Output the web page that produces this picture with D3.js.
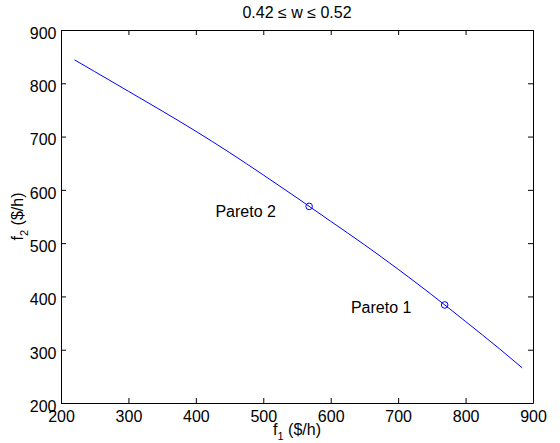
<!DOCTYPE html>
<html>
<head>
<meta charset="utf-8">
<script src="https://cdn.jsdelivr.net/npm/d3@7"></script>
<style>
  body { margin: 0; background: #fff; }
  svg text { font-family: 'Liberation Sans', Arial, Helvetica, sans-serif; font-size: 16px; fill: #000; }
</style>
</head>
<body>
<div id="chart"></div>
<script>
// pareto front
const f1 = [220, 250, 300, 350, 400, 450, 500, 550, 600, 650, 700, 750, 800, 850, 884];
const f2 = [844, 822, 785, 748, 710, 670, 628, 585, 541, 497, 451, 403, 353, 302, 266];

// the two marked solutions
const paretoF1 = [769, 568];
const paretoF2 = [384, 569];

// text labels next to them (data coords of left/middle of text)
const labelText = ['Pareto 1', 'Pareto 2'];
const labelF1 = [630, 429];
const labelF2 = [380, 559];

const ticks = [200, 300, 400, 500, 600, 700, 800, 900];

const width = 560, height = 443;
const margin = {top: 30, right: 27, bottom: 40, left: 61};
const chartWidth = width - margin.left - margin.right;   // 472
const chartHeight = height - margin.top - margin.bottom; // 373

const svg = d3.select('#chart').append('svg')
    .attr('width', width)
    .attr('height', height);

svg.append('rect').attr('width', width).attr('height', height).attr('fill', '#fff');

const chart = svg.append('g')
    .attr('transform', `translate(${margin.left},${margin.top})`);

const scaleX = d3.scaleLinear([200, 900], [0, chartWidth]);
const scaleY = d3.scaleLinear([200, 900], [chartHeight, 0]);

// axes, ticks pointing inward like matlab
const axisX = chart.append('g').attr('transform', `translate(0,${chartHeight})`)
    .call(d3.axisBottom(scaleX).tickValues(ticks).tickSize(-5).tickSizeOuter(0));
const axisY = chart.append('g')
    .call(d3.axisLeft(scaleY).tickValues(ticks).tickSize(-5).tickSizeOuter(0));
chart.append('g')
    .call(d3.axisTop(scaleX).tickValues(ticks).tickSize(-5).tickSizeOuter(0).tickFormat(''));
chart.append('g').attr('transform', `translate(${chartWidth},0)`)
    .call(d3.axisRight(scaleY).tickValues(ticks).tickSize(-5).tickSizeOuter(0).tickFormat(''));

chart.selectAll('.domain').attr('stroke', '#000').attr('stroke-width', 1);
chart.selectAll('.tick line').attr('stroke', '#000');
svg.selectAll('g').attr('font-size', null).attr('font-family', null);

axisX.selectAll('.tick text').attr('y', 8).attr('dy', '0.71em');
axisY.selectAll('.tick text').attr('x', -4.5).attr('dy', '0.52em');

// curve
const line = d3.line()
    .x(d => scaleX(d[0]))
    .y(d => scaleY(d[1]))
    .curve(d3.curveMonotoneX);

chart.append('path')
    .datum(d3.zip(f1, f2))
    .attr('d', line)
    .attr('fill', 'none')
    .attr('stroke', '#0000ff')
    .attr('stroke-width', 1);

chart.selectAll('circle.pareto')
    .data(d3.zip(paretoF1, paretoF2))
    .join('circle')
    .classed('pareto', true)
    .attr('cx', d => scaleX(d[0]))
    .attr('cy', d => scaleY(d[1]))
    .attr('r', 3.3)
    .attr('fill', 'none')
    .attr('stroke', '#0000ff')
    .attr('stroke-width', 1);

chart.selectAll('text.label')
    .data(d3.zip(labelText, labelF1, labelF2))
    .join('text')
    .classed('label', true)
    .attr('x', d => scaleX(d[1]))
    .attr('y', d => scaleY(d[2]))
    .attr('dy', '0.36em')
    .text(d => d[0]);

// title
svg.append('text')
    .attr('x', margin.left + chartWidth / 2)
    .attr('y', 17.5)
    .attr('text-anchor', 'middle')
    .text('0.42 ≤ w ≤ 0.52');

// x label with subscript
const xl = svg.append('text')
    .attr('x', margin.left + chartWidth / 2)
    .attr('y', 435)
    .attr('text-anchor', 'middle');
xl.append('tspan').text('f');
xl.append('tspan').attr('font-size', 11).attr('dy', 5).text('1');
xl.append('tspan').attr('dy', -5).text(' ($/h)');

// y label
const yl = svg.append('text')
    .attr('transform', `translate(23,${margin.top + chartHeight / 2}) rotate(-90)`)
    .attr('text-anchor', 'middle');
yl.append('tspan').text('f');
yl.append('tspan').attr('font-size', 11).attr('dy', 5).text('2');
yl.append('tspan').attr('dy', -5).text(' ($/h)');
</script>
</body>
</html>
